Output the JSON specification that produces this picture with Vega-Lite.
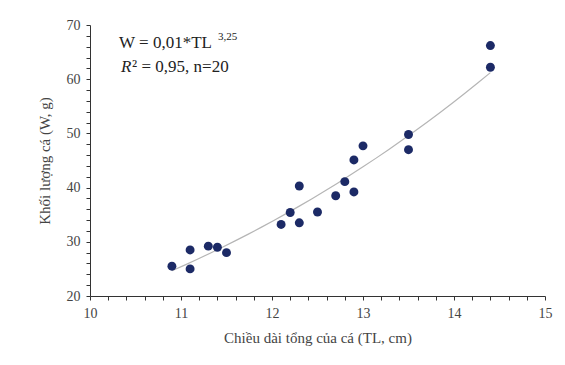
{
  "$schema": "https://vega.github.io/schema/vega-lite/v6.json",
  "width": 455,
  "height": 271,
  "autosize": {"type": "none"},
  "padding": {"left": 90, "top": 25, "right": 20, "bottom": 69},
  "background": "white",
  "config": {
    "view": {"stroke": null},
    "font": "Liberation Serif",
    "text": {"font": "Liberation Serif", "fontWeight": "normal"},
    "axis": {"grid": false, "domainColor": "#333", "tickColor": "#333", "labelColor": "#444", "titleColor": "#444", "labelFont": "Liberation Serif", "titleFont": "Liberation Serif", "labelFontSize": 14, "titleFontSize": 15, "titleFontWeight": "normal", "labelOverlap": false, "labelFlush": false, "labelBound": false}
  },
  "data": {"values": [
    {"TL": 10.9, "W": 25.5},
    {"TL": 11.1, "W": 28.5},
    {"TL": 11.1, "W": 25.0},
    {"TL": 11.3, "W": 29.2},
    {"TL": 11.4, "W": 29.0},
    {"TL": 11.5, "W": 28.0},
    {"TL": 12.1, "W": 33.2},
    {"TL": 12.2, "W": 35.4},
    {"TL": 12.3, "W": 33.5},
    {"TL": 12.3, "W": 40.3},
    {"TL": 12.5, "W": 35.5},
    {"TL": 12.7, "W": 38.5},
    {"TL": 12.8, "W": 41.1},
    {"TL": 12.9, "W": 39.2},
    {"TL": 12.9, "W": 45.1},
    {"TL": 13.0, "W": 47.7},
    {"TL": 13.5, "W": 49.8},
    {"TL": 13.5, "W": 47.0},
    {"TL": 14.4, "W": 62.2},
    {"TL": 14.4, "W": 66.2}
  ]},
  "encoding": {
    "x": {"field": "TL", "type": "quantitative",
      "scale": {"domain": [10, 15], "nice": false, "zero": false},
      "axis": {"title": "Chiều dài tổng của cá (TL, cm)", "values": [10,10.2,10.4,10.6,10.8,11,11.2,11.4,11.6,11.8,12,12.2,12.4,12.6,12.8,13,13.2,13.4,13.6,13.8,14,14.2,14.4,14.6,14.8,15], "labelExpr": "abs(datum.value - round(datum.value)) < 0.01 ? format(datum.value, 'd') : ''", "labelOverlap": false, "tickSize": 4, "labelPadding": 6, "titlePadding": 10}},
    "y": {"field": "W", "type": "quantitative",
      "scale": {"domain": [20, 70], "nice": false, "zero": false},
      "axis": {"title": "Khối lượng cá (W, g)", "values": [20,22,24,26,28,30,32,34,36,38,40,42,44,46,48,50,52,54,56,58,60,62,64,66,68,70], "labelExpr": "datum.value % 10 == 0 ? format(datum.value, 'd') : ''", "labelOverlap": false, "tickSize": 4, "labelPadding": 6, "titlePadding": 14}}
  },
  "layer": [
    {
      "transform": [{"regression": "W", "on": "TL", "method": "pow", "extent": [10.9, 14.4]}],
      "mark": {"type": "line", "color": "#b5b5b5", "strokeWidth": 1.2}
    },
    {
      "mark": {"type": "point", "filled": true, "color": "#1c2a66", "opacity": 1, "size": 80}
    },
    {
      "transform": [{"filter": "datum.W == 66.2"}],
      "mark": {"type": "text", "text": "W = 0,01*TL", "align": "left", "baseline": "middle", "fontSize": 17, "color": "#222"},
      "encoding": {"x": {"datum": 10.32}, "y": {"datum": 66.7}}
    },
    {
      "transform": [{"filter": "datum.W == 66.2"}],
      "mark": {"type": "text", "text": "3,25", "align": "left", "baseline": "middle", "fontSize": 11, "color": "#222", "dx": 99, "dy": -6},
      "encoding": {"x": {"datum": 10.32}, "y": {"datum": 66.7}}
    },
    {
      "transform": [{"filter": "datum.W == 66.2"}],
      "mark": {"type": "text", "text": "R", "align": "left", "baseline": "middle", "fontSize": 17, "fontStyle": "italic", "color": "#222", "dx": 2},
      "encoding": {"x": {"datum": 10.32}, "y": {"datum": 62.3}}
    },
    {
      "transform": [{"filter": "datum.W == 66.2"}],
      "mark": {"type": "text", "text": "² = 0,95, n=20", "align": "left", "baseline": "middle", "fontSize": 17, "color": "#222", "dx": 13},
      "encoding": {"x": {"datum": 10.32}, "y": {"datum": 62.3}}
    }
  ]
}
